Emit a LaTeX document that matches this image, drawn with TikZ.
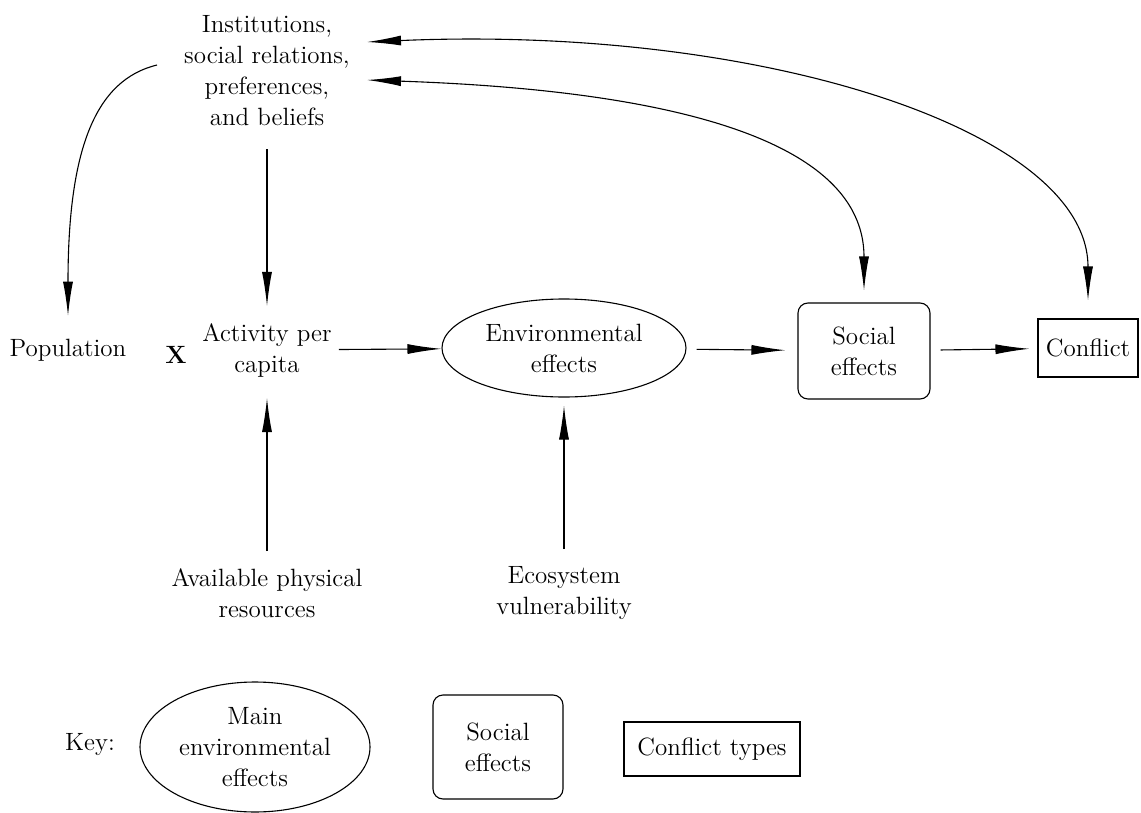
\documentclass[tikz,border=0pt]{standalone}
\usetikzlibrary{shapes.geometric,arrows.meta}

\begin{document}
\begin{tikzpicture}[x=0.5pt, y=-0.5pt,
   every node/.style={align=center, font=\fontsize{12.5}{15.5}\selectfont},
   effect/.style={draw, ellipse, inner sep=0pt, minimum width=122pt, minimum height=49pt},
   social/.style={draw, rounded corners=5pt, minimum width=66pt, minimum height=48pt},
   conflict/.style={draw, minimum width=50pt, minimum height=29pt},
   conn/.style={-{Latex[length=17pt,width=5pt]}},
   twoway/.style={{Latex[length=17pt,width=5pt]}-{Latex[length=17pt,width=5pt]}},
   line width=0.55pt]

\useasboundingbox (0,0) rectangle (1141,813);

% causal chain
\node (inst) at (267,71) {Institutions,\\social relations,\\preferences,\\and beliefs};
\node (pop) at (68,350) {Population};
\node (times) at (176,355) {\textbf{X}};
\node (act) at (267,350) {Activity per\\capita};
\node[effect] (env) at (564,348) {Environmental\\effects};
\node[social] (soc) at (864,351) {Social\\effects};
\node[conflict] (con) at (1088,348) {Conflict};
\node (res) at (267,593) {Available physical\\resources};
\node (eco) at (564,593) {Ecosystem\\vulnerability};

% key
\node (key) at (90,745) {Key:};
\node[effect, minimum width=115pt, minimum height=65pt] (keyenv) at (255,747) {Main\\environmental\\effects};
\node[social, minimum width=65pt, minimum height=52pt] (keysoc) at (498,747) {Social\\effects};
\node[conflict, minimum width=88pt, minimum height=27pt] (keycon) at (712,749) {Conflict types};

% arrows
\draw[conn] (act) -- (env);
\draw[conn, shorten <=5pt, shorten >=6pt] (env) -- (soc);
\draw[conn, shorten <=5pt, shorten >=4pt] (soc) -- (con);
\draw[conn, shorten <=8pt, shorten >=5pt] (inst) -- (act);
\draw[conn, shorten <=5pt, shorten >=7pt] (res) -- (act);
\draw[conn, shorten <=5pt, shorten >=4pt] (eco.north) -- (env.south);
\draw[conn, shorten >=8pt] ([xshift=-10pt,yshift=3pt]inst.west)
   .. controls (95,80) and (68,150) .. (pop.north);
\draw[twoway, shorten >=9pt] ([xshift=5pt,yshift=14.5pt]inst.east)
   .. controls (760,25) and (1088,130) .. (con.north);
\draw[twoway, shorten >=6pt] ([xshift=5pt,yshift=-4.5pt]inst.east)
   .. controls (600,88) and (864,120) .. (soc.north);

\end{tikzpicture}
\end{document}
